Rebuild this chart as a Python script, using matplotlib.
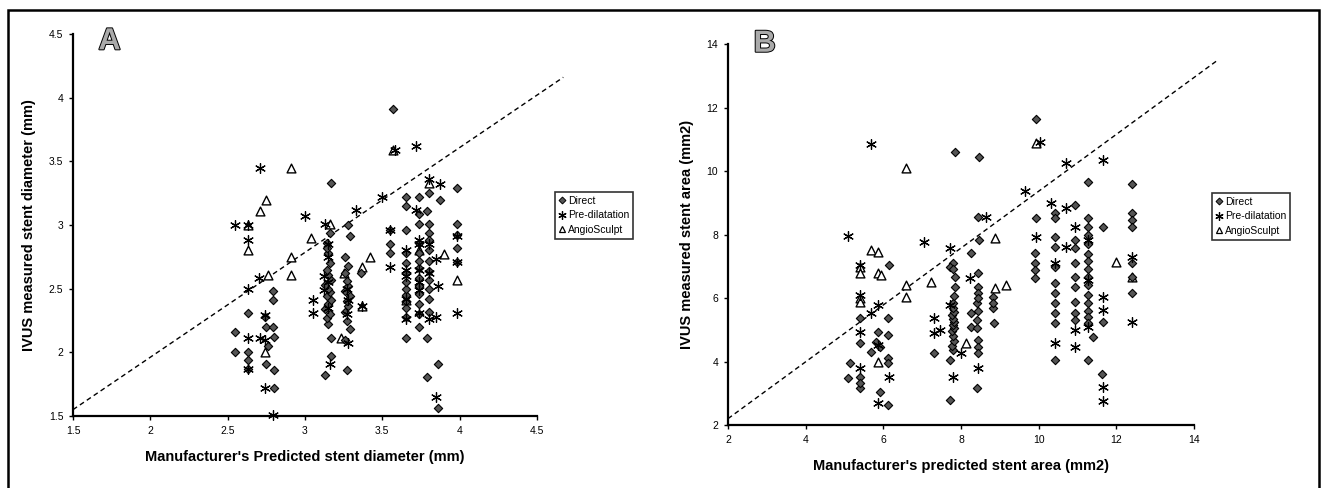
import matplotlib
matplotlib.use("Agg")
import matplotlib.pyplot as plt
import matplotlib.patheffects as pe
from matplotlib.patches import Rectangle
from matplotlib.lines import Line2D

plt.rcParams['font.family'] = ['Liberation Sans', 'DejaVu Sans']

# ---------------- Panel A data (diameter, mm) ----------------
a_direct_x = [2.55, 2.63, 2.55, 2.63, 2.63, 2.63, 2.75, 2.80, 2.80, 2.79, 2.79, 2.75, 2.80, 2.76, 2.74, 2.79,
              3.17, 3.16, 3.14, 3.13, 3.17, 3.17,
              3.15, 3.14, 3.16, 3.13, 3.15, 3.17, 3.14, 3.16, 3.15, 3.13, 3.17, 3.15, 3.14, 3.16, 3.15, 3.14,
              3.28, 3.29, 3.26, 3.29, 3.27, 3.26, 3.36,
              3.27, 3.26, 3.28, 3.27, 3.29, 3.26, 3.28, 3.27, 3.26, 3.28,
              3.57, 3.55, 3.55, 3.55,
              3.65, 3.65, 3.65, 3.65, 3.65, 3.65, 3.65, 3.65, 3.65, 3.65, 3.65, 3.65, 3.65,
              3.74, 3.74, 3.74, 3.74, 3.74, 3.74, 3.74, 3.74, 3.74, 3.74, 3.74, 3.74, 3.74,
              3.80, 3.87, 3.79, 3.80, 3.80, 3.79, 3.79, 3.86, 3.86,
              3.80, 3.80, 3.80, 3.80, 3.80, 3.80, 3.80, 3.80,
              3.98, 3.98, 3.98, 3.98, 3.98]
a_direct_y = [2.16, 2.31, 2.00, 2.00, 1.94, 1.87, 1.91, 1.86, 1.72, 2.48, 2.41, 2.20, 2.12, 2.05, 2.28, 2.20,
              3.33, 2.94, 2.86, 1.82, 1.97, 2.11,
              2.22, 2.27, 2.30, 2.34, 2.38, 2.41, 2.44, 2.47, 2.50, 2.53, 2.57, 2.61, 2.65, 2.70, 2.78, 2.82,
              3.00, 2.91, 2.75, 2.18, 1.86, 2.10, 2.62,
              2.25, 2.32, 2.36, 2.40, 2.44, 2.48, 2.52, 2.56, 2.62, 2.68,
              3.91, 2.96, 2.85, 2.78,
              3.22, 3.15, 2.96, 2.11, 2.28, 2.35, 2.40, 2.45, 2.50, 2.55, 2.62, 2.70, 2.78,
              3.22, 3.09, 3.01, 2.20, 2.30, 2.38, 2.46, 2.52, 2.58, 2.66, 2.72, 2.78, 2.86,
              3.25, 3.20, 3.11, 3.01, 2.94, 2.11, 1.81, 1.91, 1.56,
              2.32, 2.42, 2.50, 2.57, 2.64, 2.72, 2.80, 2.88,
              3.29, 3.01, 2.92, 2.82, 2.71]

a_pre_x = [2.71, 2.55, 2.63, 2.63, 2.63, 2.70, 2.63, 2.63, 2.74, 2.71, 2.74, 2.74, 2.79,
           3.00, 3.05, 3.05, 3.13, 3.12, 3.12, 3.16, 3.33, 3.28, 3.28, 3.37,
           3.50, 3.58, 3.72, 3.55, 3.55, 3.65, 3.65, 3.65, 3.72, 3.74, 3.74, 3.74,
           3.80, 3.87, 3.85, 3.86, 3.85, 3.85, 3.98, 3.98, 3.98, 3.80,
           3.15, 3.15, 3.15, 3.15, 3.27, 3.27, 3.65, 3.65, 3.74, 3.74, 3.74, 3.80, 3.80]
a_pre_y = [3.45, 3.00, 3.00, 2.88, 2.50, 2.58, 2.11, 1.87, 2.29, 2.11, 2.10, 1.72, 1.51,
           3.07, 2.41, 2.31, 3.01, 2.60, 2.49, 1.91, 3.12, 2.41, 2.07, 2.36,
           3.22, 3.59, 3.62, 2.96, 2.67, 2.80, 2.60, 2.26, 3.12, 2.88, 2.49, 2.31,
           3.36, 3.32, 2.73, 2.52, 2.28, 1.65, 2.91, 2.71, 2.31, 2.26,
           2.35, 2.55, 2.75, 2.85, 2.30, 2.50, 2.65, 2.42, 2.55, 2.65, 2.85, 2.62, 2.85]

a_angio_x = [2.91, 2.75, 2.71, 2.63, 2.63, 2.76, 2.91, 2.91, 3.04, 3.16, 2.74, 3.23, 3.25, 3.37, 3.42,
             3.37, 3.57, 3.80, 3.90, 3.98, 3.74, 3.65]
a_angio_y = [3.45, 3.20, 3.11, 3.00, 2.80, 2.61, 2.75, 2.61, 2.90, 3.01, 2.00, 2.11, 2.62, 2.67, 2.75,
             2.36, 3.59, 3.33, 2.77, 2.57, 2.80, 2.41]

a_line_x = [1.5, 4.67]
a_line_y = [1.55, 4.16]

# ---------------- Panel B data (area, mm2) ----------------
b_direct_x = [9.92, 7.84, 8.46, 9.92, 8.44, 8.46, 8.27, 7.79, 7.71,
              6.15, 6.13, 6.13, 6.13, 6.13, 6.13, 5.91, 5.86, 5.39, 5.39, 5.39, 5.39, 5.13, 5.09, 5.39, 5.91,
              5.69, 5.82, 7.30, 7.71, 7.71, 7.84, 7.84,
              7.80, 7.78, 7.82, 7.80, 7.77, 7.81, 7.79, 7.83, 7.80, 7.78, 7.82, 7.80, 7.79, 7.81, 7.80,
              8.44, 8.44, 8.44, 8.44, 8.44, 8.44, 8.40, 8.27, 8.27, 8.42, 8.44, 8.40, 8.44, 8.42,
              8.82, 8.82, 8.82, 8.85,
              9.90, 9.90, 9.90, 9.90,
              10.41, 10.41, 10.41, 10.41, 10.41, 10.41, 10.41, 10.41, 10.41, 10.41, 10.41,
              10.93, 10.93, 10.93, 10.93, 10.93, 10.93, 10.93, 10.93, 10.93,
              11.27, 11.27, 11.27, 11.27, 11.27, 11.27, 11.27, 11.27, 11.27, 11.27, 11.27, 11.27, 11.27,
              11.27, 11.27, 11.27, 11.40, 11.66, 11.66, 11.62,
              12.40, 12.40, 12.40, 12.40, 12.40, 12.40, 12.40]
b_direct_y = [11.64, 10.59, 10.45, 8.51, 8.56, 7.83, 7.41, 7.09, 6.99,
              7.04, 5.36, 4.83, 4.10, 3.94, 2.63, 3.05, 4.94, 5.36, 3.52, 3.16, 3.33, 3.94, 3.47, 4.58, 4.47,
              4.31, 4.62, 4.26, 4.05, 2.79, 6.67, 6.36,
              4.35, 4.50, 4.65, 4.80, 4.95, 5.05, 5.15, 5.25, 5.35, 5.45, 5.55, 5.70, 5.85, 6.05, 6.90,
              6.78, 6.36, 6.15, 4.68, 4.47, 4.26, 3.16, 5.52, 5.10, 5.30, 5.60, 5.85, 6.00, 5.05,
              6.04, 5.67, 5.83, 5.20,
              7.41, 7.09, 6.88, 6.62,
              8.67, 8.51, 7.93, 7.62, 6.99, 6.46, 6.15, 5.83, 5.52, 5.20, 4.05,
              8.93, 7.83, 7.56, 7.09, 6.67, 6.36, 5.88, 5.52, 5.31,
              9.66, 8.51, 8.25, 8.00, 7.70, 7.40, 7.15, 6.90, 6.65, 6.40, 6.10, 5.85, 5.60,
              5.40, 5.20, 4.05, 4.78, 8.25, 5.25, 3.60,
              9.58, 8.67, 8.46, 8.25, 7.09, 6.67, 6.15]

b_pre_x = [5.10, 5.69, 7.06, 9.64, 10.03, 10.71, 11.66, 10.33, 10.71, 10.93, 9.92,
           5.39, 5.39, 5.39, 5.39, 5.69, 5.86, 5.86, 6.15, 5.86,
           7.30, 7.30, 7.45, 7.71, 7.71, 7.79, 8.01, 8.22, 8.44, 8.65,
           10.41, 10.41, 10.71, 10.93, 10.93, 11.27, 11.66, 11.66, 11.66, 11.66, 11.27, 11.27,
           12.40, 12.40]
b_pre_y = [7.95, 10.85, 7.77, 9.38, 10.92, 10.24, 10.35, 8.98, 8.82, 8.25, 7.93,
           7.04, 6.09, 4.94, 3.78, 5.52, 5.78, 2.68, 3.52, 4.52,
           5.36, 4.89, 4.99, 7.56, 5.78, 3.52, 4.26, 6.62, 3.78, 8.56,
           7.09, 4.58, 7.62, 4.99, 4.47, 7.83, 6.04, 5.62, 3.20, 2.75, 6.57, 5.10,
           7.30, 5.25]

b_angio_x = [6.59, 9.92, 5.69, 5.86, 5.39, 5.39, 5.86, 5.95, 5.39, 5.39, 5.86, 6.59, 6.59, 7.24,
             8.87, 8.87, 9.17, 8.14, 12.00, 12.40]
b_angio_y = [10.08, 10.87, 7.51, 7.46, 6.99, 6.78, 6.78, 6.72, 5.99, 5.88, 4.00, 6.41, 6.04, 6.51,
             7.88, 6.30, 6.41, 4.57, 7.12, 6.67]

b_line_x = [2.0, 14.62]
b_line_y = [2.20, 13.50]

labels = ["Direct", "Pre-dilatation", "AngioSculpt"]

# ---------------- Figure ----------------
fig = plt.figure(figsize=(13.22, 4.88), dpi=100)

# outer frame
fig.patches.append(Rectangle((8 / 1322, -0.01), 1311 / 1322, (488 - 10) / 488 + 0.01,
                             transform=fig.transFigure, fill=False, edgecolor='black',
                             linewidth=1.8, zorder=0))

axA = fig.add_axes([73 / 1322, 1 - 416 / 488, (537 - 73) / 1322, (416 - 34) / 488])
axB = fig.add_axes([728 / 1322, 1 - 425 / 488, (1194 - 728) / 1322, (425 - 44) / 488])

star = (6, 2, 0)


def draw(ax, dx, dy, px, py, tx, ty, lx, ly):
    ax.plot(lx, ly, linestyle=(0, (3.5, 2.5)), color='black', linewidth=1.0, clip_on=False, zorder=1)
    ax.scatter(dx, dy, marker='D', s=18, facecolor='#555555', edgecolor='black', linewidths=0.8,
               zorder=3, clip_on=False)
    ax.scatter(px, py, marker=star, s=50, color='black', linewidths=0.9, zorder=4, clip_on=False)
    ax.scatter(tx, ty, marker='^', s=40, facecolor='white', edgecolor='black', linewidths=1.0,
               zorder=2, clip_on=False)
    for s in ['top', 'right']:
        ax.spines[s].set_visible(False)
    for s in ['left', 'bottom']:
        ax.spines[s].set_linewidth(1.6)
    ax.tick_params(axis='both', direction='out', length=3, width=1.0, labelsize=7.5, pad=4)


draw(axA, a_direct_x, a_direct_y, a_pre_x, a_pre_y, a_angio_x, a_angio_y, a_line_x, a_line_y)
axA.set_xlim(1.5, 4.5)
axA.set_ylim(1.5, 4.5)
axA.set_xticks([1.5, 2, 2.5, 3, 3.5, 4, 4.5])
axA.set_xticklabels(["1.5", "2", "2.5", "3", "3.5", "4", "4.5"])
axA.set_yticks([1.5, 2, 2.5, 3, 3.5, 4, 4.5])
axA.set_yticklabels(["1.5", "2", "2.5", "3", "3.5", "4", "4.5"])
axA.set_xlabel("Manufacturer's Predicted stent diameter (mm)", fontsize=10.5, fontweight='bold', labelpad=10)
axA.set_ylabel("IVUS measured stent diameter (mm)", fontsize=10.5, fontweight='bold', labelpad=9)
axA.text(0.055, 1.02, "A", transform=axA.transAxes, fontsize=22, fontweight='bold',
         color='#aaaaaa', va='top', ha='left',
         path_effects=[pe.withStroke(linewidth=1.4, foreground='black')])

draw(axB, b_direct_x, b_direct_y, b_pre_x, b_pre_y, b_angio_x, b_angio_y, b_line_x, b_line_y)
axB.set_xlim(2, 14)
axB.set_ylim(2, 14)
axB.set_xticks([2, 4, 6, 8, 10, 12, 14])
axB.set_yticks([2, 4, 6, 8, 10, 12, 14])
axB.set_xlabel("Manufacturer's predicted stent area (mm2)", fontsize=10.5, fontweight='bold', labelpad=10)
axB.set_ylabel("IVUS measured stent area (mm2)", fontsize=10.5, fontweight='bold', labelpad=9)
axB.text(0.055, 1.04, "B", transform=axB.transAxes, fontsize=22, fontweight='bold',
         color='#aaaaaa', va='top', ha='left',
         path_effects=[pe.withStroke(linewidth=1.4, foreground='black')])

handles = [
    Line2D([], [], linestyle='none', marker='D', markersize=3.5, markerfacecolor='#555555',
           markeredgecolor='black', markeredgewidth=0.7),
    Line2D([], [], linestyle='none', marker=star, markersize=6, color='black', markeredgewidth=0.9),
    Line2D([], [], linestyle='none', marker='^', markersize=5, markerfacecolor='white',
           markeredgecolor='black', markeredgewidth=0.9),
]

for (x0, y0, x1, y1) in [(555, 192, 649, 251), (1212, 193, 1304, 245)]:
    leg = fig.legend(handles, labels, loc='upper left',
                     bbox_to_anchor=(x0 / 1322, 1 - y0 / 488), bbox_transform=fig.transFigure,
                     fontsize=7.5, frameon=True, fancybox=False, edgecolor='black',
                     handlelength=0.6, handletextpad=0.3, borderpad=0.35, labelspacing=0.45,
                     borderaxespad=0)
    leg.get_frame().set_linewidth(1.2)

fig.savefig("out.png", dpi=100)
